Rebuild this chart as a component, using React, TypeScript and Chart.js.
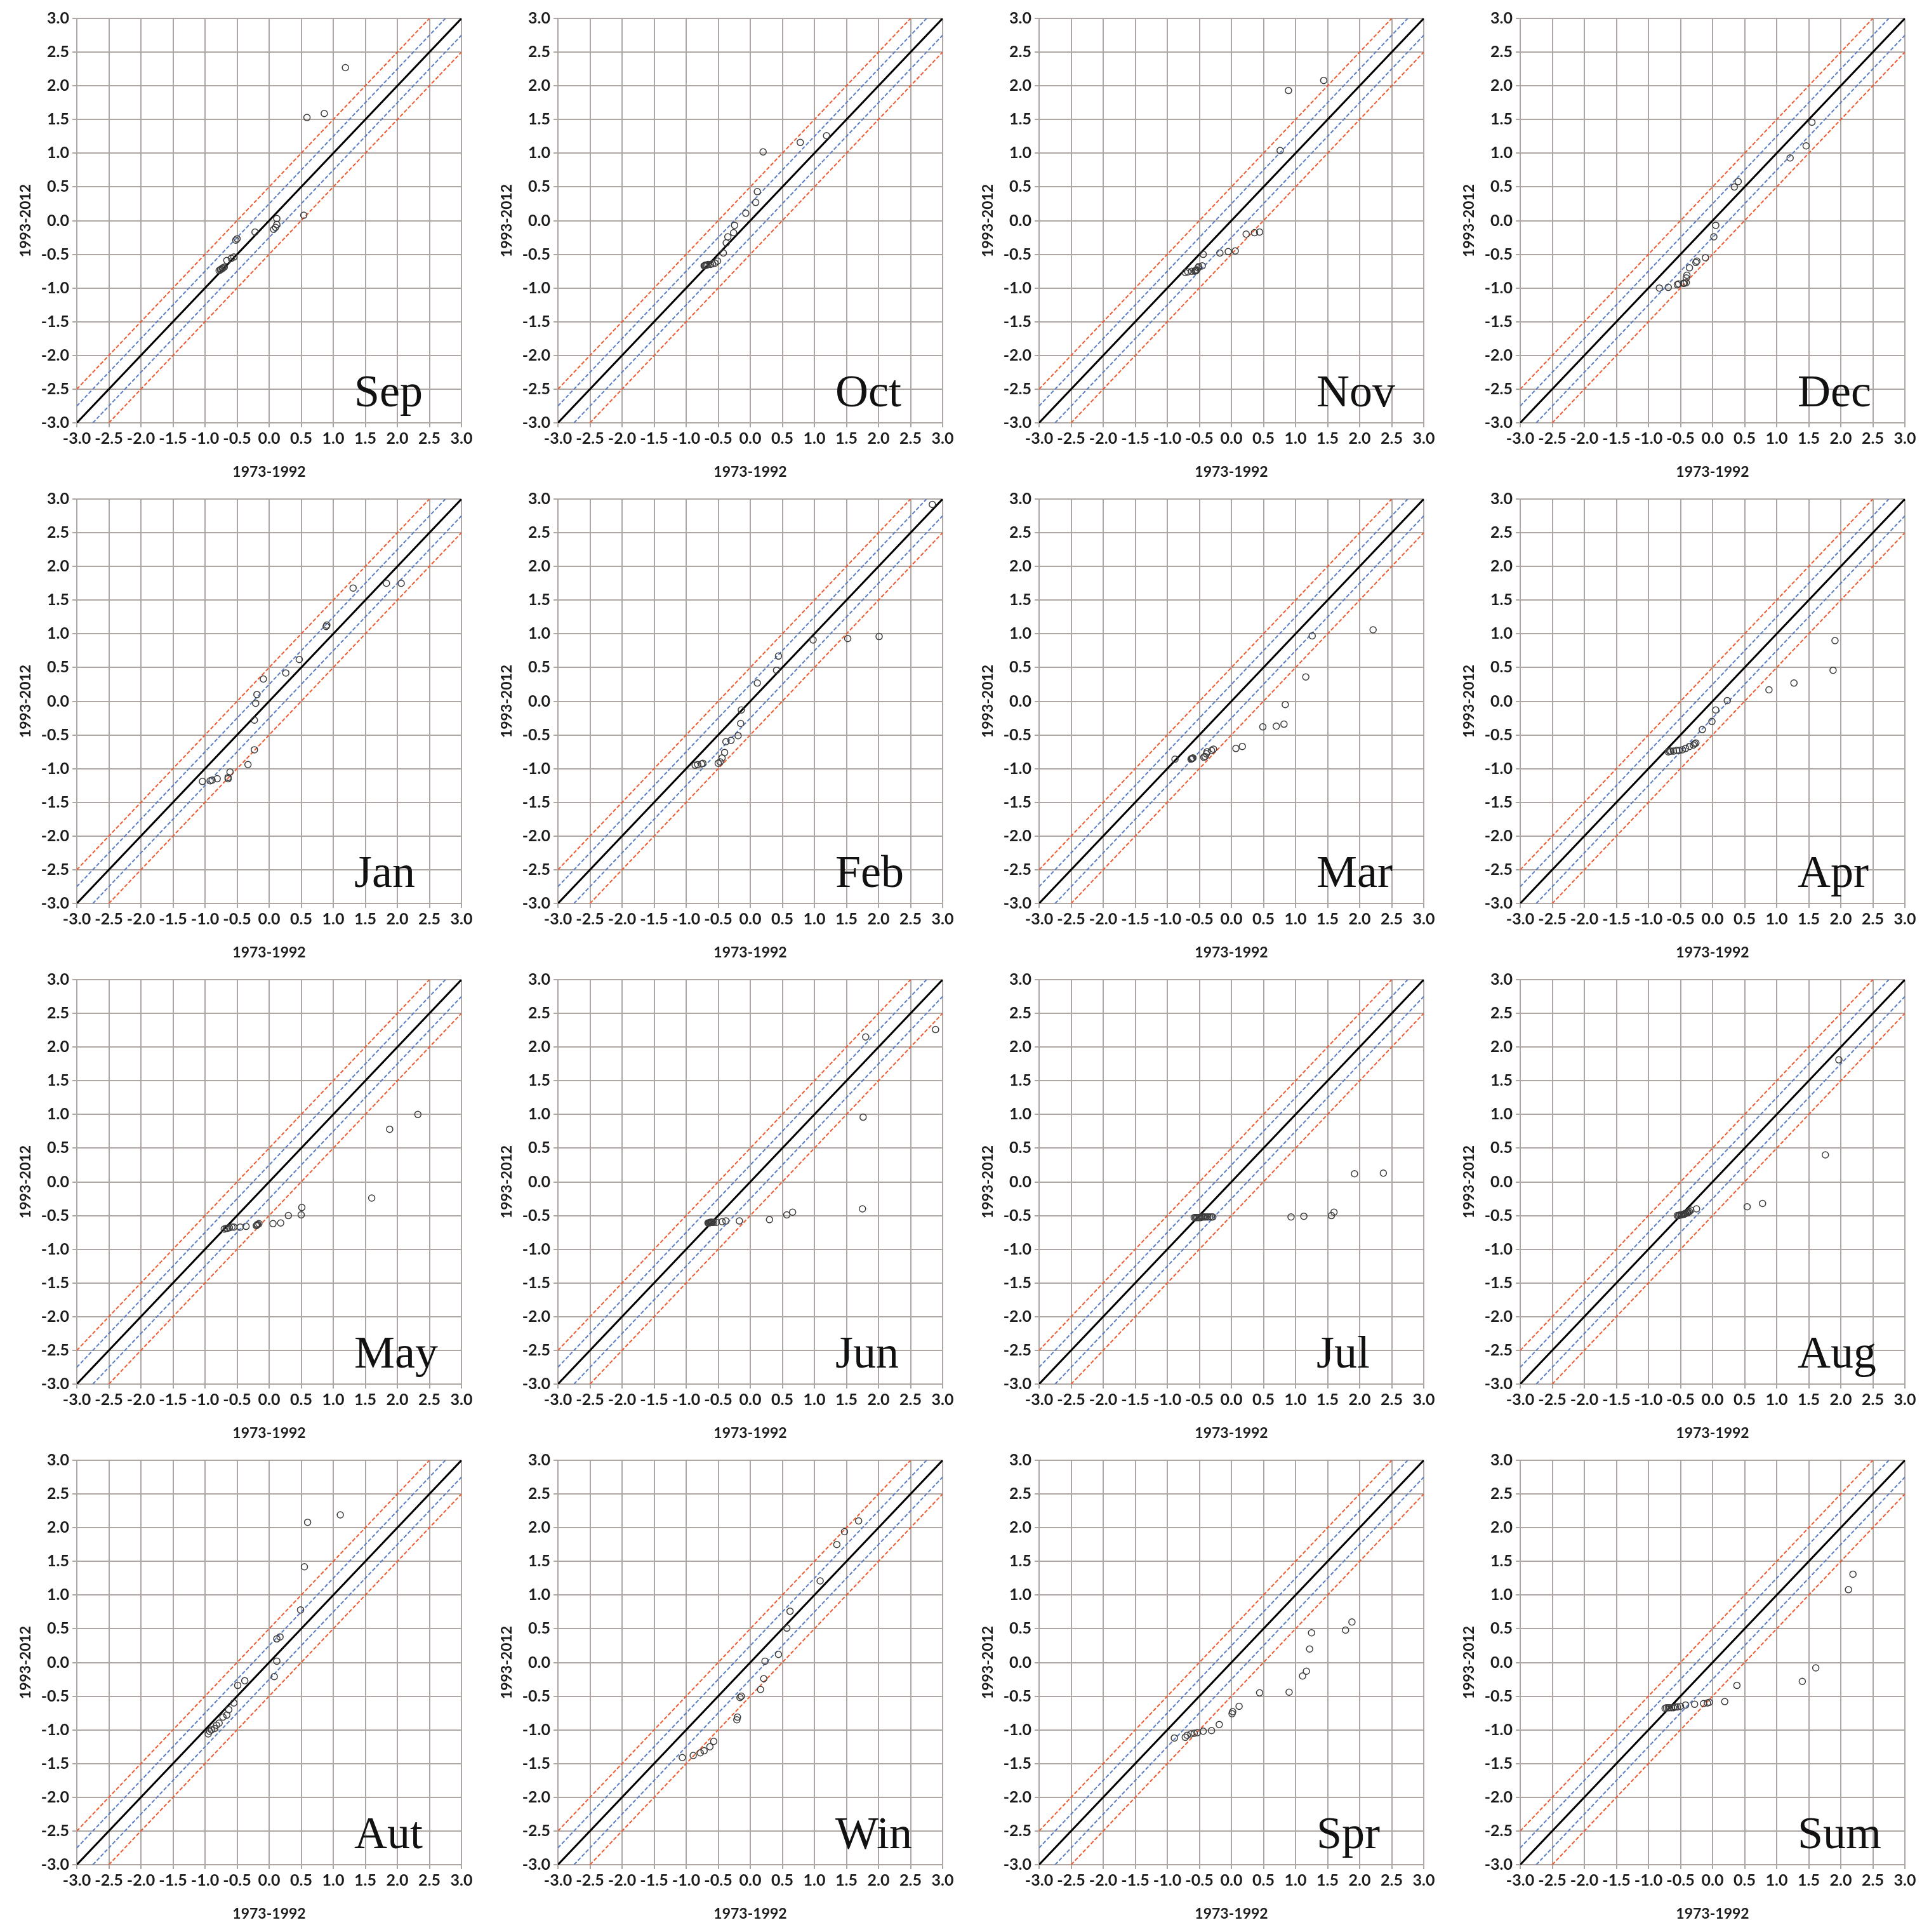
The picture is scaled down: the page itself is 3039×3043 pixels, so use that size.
import React, { useEffect, useRef } from "react";
import { Chart, registerables } from "chart.js";

Chart.register(...registerables);

// ---------- axis / labels ----------
const AXIS_MIN = -3;
const AXIS_MAX = 3;
const AXIS_STEP = 0.5;
const X_TITLE = "1973-1992";
const Y_TITLE = "1993-2012";

// ---------- reference lines (1:1 line, ±0.25 blue, ±0.5 red) ----------
const DIAG = [{ x: -3, y: -3 }, { x: 3, y: 3 }];
const BLUE_UP = [{ x: -3, y: -2.75 }, { x: 2.75, y: 3 }];
const BLUE_DN = [{ x: -2.75, y: -3 }, { x: 3, y: 2.75 }];
const RED_UP = [{ x: -3, y: -2.5 }, { x: 2.5, y: 3 }];
const RED_DN = [{ x: -2.5, y: -3 }, { x: 3, y: 2.5 }];

// ---------- data (sorted quantiles) ----------
const SEP_X = [-0.78, -0.76, -0.75, -0.73, -0.72, -0.70, -0.66, -0.59, -0.55, -0.52, -0.50, -0.22, 0.07, 0.10, 0.12, 0.12, 0.54, 0.59, 0.86, 1.19];
const SEP_Y = [-0.74, -0.73, -0.72, -0.71, -0.70, -0.69, -0.59, -0.56, -0.54, -0.29, -0.27, -0.17, -0.13, -0.10, -0.06, 0.03, 0.08, 1.53, 1.59, 2.27];

const OCT_X = [-0.72, -0.71, -0.70, -0.68, -0.66, -0.62, -0.59, -0.55, -0.51, -0.42, -0.375, -0.35, -0.26, -0.245, -0.07, 0.085, 0.11, 0.20, 0.78, 1.19];
const OCT_Y = [-0.67, -0.67, -0.66, -0.66, -0.65, -0.65, -0.64, -0.63, -0.60, -0.48, -0.33, -0.24, -0.18, -0.07, 0.11, 0.27, 0.43, 1.02, 1.16, 1.26];

const NOV_X = [-0.72, -0.68, -0.62, -0.57, -0.56, -0.55, -0.54, -0.52, -0.51, -0.455, -0.44, -0.18, -0.05, 0.06, 0.23, 0.36, 0.44, 0.76, 0.89, 1.44];
const NOV_Y = [-0.77, -0.76, -0.75, -0.75, -0.74, -0.74, -0.73, -0.70, -0.68, -0.67, -0.50, -0.48, -0.46, -0.45, -0.20, -0.18, -0.17, 1.04, 1.93, 2.08];

const DEC_X = [-0.83, -0.69, -0.55, -0.53, -0.455, -0.44, -0.41, -0.41, -0.40, -0.36, -0.26, -0.245, -0.11, 0.02, 0.05, 0.34, 0.40, 1.21, 1.46, 1.55];
const DEC_Y = [-1.00, -0.99, -0.95, -0.94, -0.93, -0.93, -0.92, -0.85, -0.81, -0.70, -0.62, -0.60, -0.55, -0.24, -0.07, 0.50, 0.58, 0.93, 1.11, 1.46];

const JAN_X = [-1.04, -0.92, -0.89, -0.81, -0.64, -0.64, -0.61, -0.33, -0.23, -0.23, -0.21, -0.19, -0.09, 0.26, 0.47, 0.89, 0.90, 1.31, 1.83, 2.06];
const JAN_Y = [-1.19, -1.18, -1.17, -1.15, -1.15, -1.13, -1.05, -0.94, -0.72, -0.28, -0.03, 0.10, 0.33, 0.42, 0.62, 1.11, 1.13, 1.68, 1.75, 1.75];

const FEB_X = [-0.86, -0.82, -0.76, -0.74, -0.50, -0.47, -0.44, -0.40, -0.38, -0.30, -0.19, -0.15, -0.14, 0.11, 0.41, 0.44, 0.98, 1.52, 2.01, 2.84];
const FEB_Y = [-0.95, -0.94, -0.93, -0.92, -0.92, -0.90, -0.84, -0.76, -0.60, -0.58, -0.51, -0.33, -0.13, 0.27, 0.46, 0.67, 0.91, 0.93, 0.96, 2.92];

const MAR_X = [-0.88, -0.63, -0.62, -0.61, -0.60, -0.43, -0.41, -0.39, -0.38, -0.31, -0.28, 0.07, 0.17, 0.49, 0.70, 0.82, 0.84, 1.16, 1.26, 2.21];
const MAR_Y = [-0.86, -0.86, -0.85, -0.85, -0.84, -0.83, -0.82, -0.78, -0.75, -0.73, -0.71, -0.70, -0.67, -0.38, -0.37, -0.34, -0.05, 0.36, 0.97, 1.06];

const APR_X = [-0.69, -0.67, -0.65, -0.61, -0.56, -0.52, -0.47, -0.42, -0.36, -0.30, -0.28, -0.26, -0.16, -0.01, 0.05, 0.23, 0.88, 1.27, 1.88, 1.91];
const APR_Y = [-0.75, -0.74, -0.74, -0.74, -0.73, -0.73, -0.72, -0.70, -0.67, -0.65, -0.63, -0.62, -0.42, -0.30, -0.13, 0.01, 0.17, 0.27, 0.46, 0.90];

const MAY_X = [-0.70, -0.67, -0.65, -0.62, -0.58, -0.55, -0.45, -0.36, -0.20, -0.19, -0.18, -0.16, 0.06, 0.18, 0.30, 0.50, 0.51, 1.60, 1.88, 2.32];
const MAY_Y = [-0.70, -0.69, -0.69, -0.68, -0.67, -0.67, -0.67, -0.66, -0.65, -0.64, -0.63, -0.62, -0.62, -0.61, -0.50, -0.49, -0.38, -0.24, 0.78, 1.00];

const JUN_X = [-0.66, -0.65, -0.64, -0.63, -0.62, -0.61, -0.60, -0.59, -0.57, -0.53, -0.44, -0.38, -0.17, 0.30, 0.57, 0.66, 1.75, 1.76, 1.80, 2.89];
const JUN_Y = [-0.61, -0.61, -0.61, -0.60, -0.60, -0.60, -0.60, -0.60, -0.60, -0.60, -0.59, -0.58, -0.58, -0.56, -0.49, -0.45, -0.40, 0.96, 2.15, 2.26];

const JUL_X = [-0.58, -0.56, -0.54, -0.52, -0.50, -0.48, -0.46, -0.44, -0.42, -0.40, -0.37, -0.34, -0.31, -0.29, 0.93, 1.13, 1.56, 1.60, 1.92, 2.37];
const JUL_Y = [-0.53, -0.53, -0.53, -0.53, -0.53, -0.53, -0.52, -0.52, -0.52, -0.52, -0.52, -0.52, -0.52, -0.52, -0.52, -0.51, -0.50, -0.45, 0.12, 0.13];

const AUG_X = [-0.55, -0.53, -0.51, -0.49, -0.48, -0.46, -0.45, -0.44, -0.43, -0.42, -0.40, -0.39, -0.38, -0.36, -0.34, -0.25, 0.54, 0.78, 1.76, 1.97];
const AUG_Y = [-0.50, -0.50, -0.49, -0.49, -0.49, -0.48, -0.48, -0.48, -0.47, -0.47, -0.46, -0.46, -0.45, -0.44, -0.42, -0.40, -0.37, -0.32, 0.40, 1.81];

const AUT_X = [-0.95, -0.93, -0.90, -0.85, -0.82, -0.78, -0.72, -0.66, -0.63, -0.55, -0.49, -0.38, 0.08, 0.12, 0.12, 0.17, 0.49, 0.55, 0.60, 1.11];
const AUT_Y = [-1.06, -1.02, -1.00, -0.98, -0.93, -0.90, -0.81, -0.78, -0.70, -0.60, -0.34, -0.27, -0.21, 0.02, 0.35, 0.38, 0.78, 1.42, 2.08, 2.19];

const WIN_X = [-1.06, -0.89, -0.78, -0.72, -0.63, -0.57, -0.21, -0.20, -0.16, -0.14, 0.16, 0.21, 0.23, 0.44, 0.57, 0.62, 1.09, 1.35, 1.47, 1.69];
const WIN_Y = [-1.41, -1.38, -1.34, -1.31, -1.25, -1.17, -0.85, -0.81, -0.52, -0.50, -0.40, -0.24, 0.02, 0.12, 0.51, 0.76, 1.21, 1.75, 1.94, 2.10];

const SPR_X = [-0.89, -0.72, -0.69, -0.63, -0.58, -0.53, -0.44, -0.31, -0.19, 0.01, 0.02, 0.12, 0.44, 0.90, 1.11, 1.17, 1.22, 1.25, 1.78, 1.88];
const SPR_Y = [-1.12, -1.11, -1.08, -1.06, -1.05, -1.04, -1.02, -1.01, -0.92, -0.76, -0.73, -0.65, -0.45, -0.44, -0.20, -0.13, 0.20, 0.44, 0.48, 0.60];

const SUM_X = [-0.74, -0.72, -0.69, -0.67, -0.64, -0.61, -0.58, -0.55, -0.50, -0.42, -0.28, -0.14, -0.08, -0.05, 0.19, 0.38, 1.40, 1.61, 2.12, 2.19];
const SUM_Y = [-0.68, -0.67, -0.67, -0.67, -0.67, -0.67, -0.66, -0.66, -0.65, -0.63, -0.62, -0.61, -0.60, -0.59, -0.58, -0.34, -0.28, -0.08, 1.08, 1.31];

const PANELS = [
  { name: "Sep", xs: SEP_X, ys: SEP_Y },
  { name: "Oct", xs: OCT_X, ys: OCT_Y },
  { name: "Nov", xs: NOV_X, ys: NOV_Y },
  { name: "Dec", xs: DEC_X, ys: DEC_Y },
  { name: "Jan", xs: JAN_X, ys: JAN_Y },
  { name: "Feb", xs: FEB_X, ys: FEB_Y },
  { name: "Mar", xs: MAR_X, ys: MAR_Y },
  { name: "Apr", xs: APR_X, ys: APR_Y },
  { name: "May", xs: MAY_X, ys: MAY_Y },
  { name: "Jun", xs: JUN_X, ys: JUN_Y },
  { name: "Jul", xs: JUL_X, ys: JUL_Y },
  { name: "Aug", xs: AUG_X, ys: AUG_Y },
  { name: "Aut", xs: AUT_X, ys: AUT_Y },
  { name: "Win", xs: WIN_X, ys: WIN_Y },
  { name: "Spr", xs: SPR_X, ys: SPR_Y },
  { name: "Sum", xs: SUM_X, ys: SUM_Y },
];

// ---------- style ----------
const CELL_W = 758;
const CELL_H = 757;
const GRID = "#aea7a4";
const BLUE = "#5a7ec6";
const RED = "#ee5b30";
const TEXT = "#1c1c1c";
const TICK_FONT = { family: "Lato", size: 25, weight: "bold" as const };
const TITLE_FONT = { family: "Lato", size: 23, weight: "bold" as const };

const monthLabel = {
  id: "monthLabel",
  afterDraw(chart: any, _args: any, opts: any) {
    const { ctx, chartArea: a } = chart;
    ctx.save();
    ctx.font = '72px "Liberation Serif", "Times New Roman", serif';
    ctx.fillStyle = "#111";
    ctx.textAlign = "left";
    ctx.textBaseline = "alphabetic";
    ctx.fillText(opts.text, a.left + a.width * 0.721, a.top + a.height * 0.959);
    ctx.restore();
  },
};

function Panel({ name, xs, ys, left, top }: { name: string; xs: number[]; ys: number[]; left: number; top: number }) {
  const ref = useRef<HTMLCanvasElement>(null);
  useEffect(() => {
    const pts = xs.map((x, i) => ({ x, y: ys[i] }));
    const lineDs = (data: any[], color: string, width: number, dash: number[]) => ({
      data,
      showLine: true,
      borderColor: color,
      backgroundColor: color,
      borderWidth: width,
      borderDash: dash,
      pointRadius: 0,
      pointHoverRadius: 0,
      clip: 0,
    });
    const chart = new Chart(ref.current as HTMLCanvasElement, {
      type: "scatter",
      data: {
        datasets: [
          {
            data: pts,
            pointStyle: "circle",
            pointRadius: 5,
            pointBorderWidth: 1.5,
            borderColor: "#3c3c3c",
            backgroundColor: "rgba(255,255,255,0)",
            showLine: false,
          } as any,
          lineDs(DIAG, "#000", 3, []),
          lineDs(BLUE_UP, BLUE, 2, [6, 3]),
          lineDs(BLUE_DN, BLUE, 2, [6, 3]),
          lineDs(RED_UP, RED, 2, [6, 3]),
          lineDs(RED_DN, RED, 2, [6, 3]),
        ],
      },
      options: {
        responsive: false,
        animation: false,
        devicePixelRatio: 1,
        layout: { padding: { left: 0, top: 29, right: 31, bottom: 0 } },
        plugins: {
          legend: { display: false },
          tooltip: { enabled: false },
          monthLabel: { text: name },
        } as any,
        scales: {
          x: {
            type: "linear",
            position: "bottom",
            min: AXIS_MIN,
            max: AXIS_MAX,
            ticks: {
              stepSize: AXIS_STEP,
              autoSkip: false,
              maxRotation: 0,
              minRotation: 0,
              padding: 3,
              color: TEXT,
              font: TICK_FONT,
              callback: (v: any) => Number(v).toFixed(1),
            },
            grid: { color: GRID, lineWidth: 2, tickLength: 7, drawTicks: true },
            border: { color: GRID, width: 2 },
            title: { display: true, text: X_TITLE, color: TEXT, font: TITLE_FONT, padding: { top: 0, bottom: 0 } },
            afterFit: (s: any) => {
              s.height = 91;
              s.paddingLeft = 0;
              s.paddingRight = 0;
            },
          },
          y: {
            type: "linear",
            position: "left",
            min: AXIS_MIN,
            max: AXIS_MAX,
            ticks: {
              stepSize: AXIS_STEP,
              autoSkip: false,
              padding: 5,
              color: TEXT,
              font: TICK_FONT,
              callback: (v: any) => Number(v).toFixed(1),
            },
            grid: { color: GRID, lineWidth: 2, tickLength: 7, drawTicks: true },
            border: { color: GRID, width: 2 },
            title: { display: true, text: Y_TITLE, color: TEXT, font: TITLE_FONT, padding: { top: 27, bottom: 0 } },
            afterFit: (s: any) => {
              s.width = 121;
              s.paddingTop = 0;
              s.paddingBottom = 0;
            },
          },
        },
      } as any,
      plugins: [monthLabel as any],
    });
    return () => chart.destroy();
  }, [name, xs, ys]);
  return (
    <canvas
      ref={ref}
      width={CELL_W}
      height={CELL_H}
      style={{ position: "absolute", left, top, width: CELL_W, height: CELL_H }}
    />
  );
}

export default function App() {
  return (
    <div
      style={{
        position: "absolute",
        left: 0,
        top: 0,
        width: 3039,
        height: 3043,
        background: "#fff",
        overflow: "hidden",
      }}
    >
      {PANELS.map((p, i) => (
        <Panel
          key={p.name}
          name={p.name}
          xs={p.xs}
          ys={p.ys}
          left={(i % 4) * CELL_W}
          top={Math.floor(i / 4) * CELL_H}
        />
      ))}
    </div>
  );
}
